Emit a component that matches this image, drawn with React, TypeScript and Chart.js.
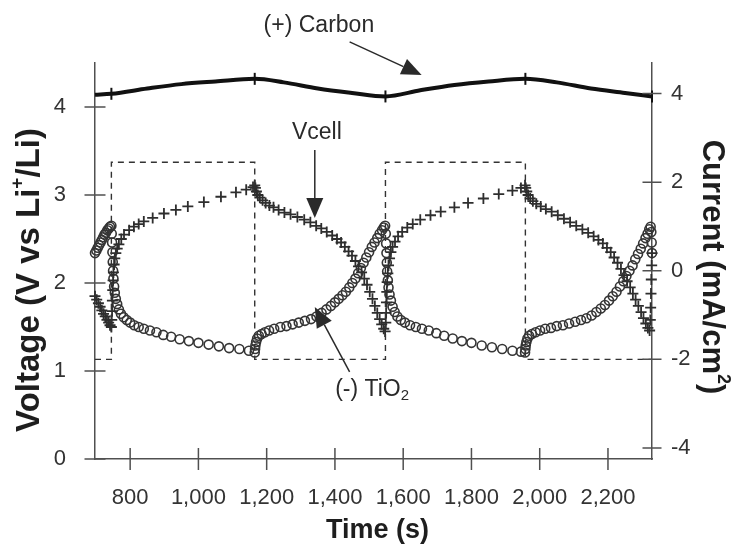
import React, { useEffect, useRef } from 'react';
import { Chart, registerables } from 'chart.js';

Chart.register(...registerables);

const FONT = '"Liberation Sans", Arial, Helvetica, sans-serif';
const INK = '#2a2a2a';
const AXIS = '#505050';

// Tick labels
const timeTicks = [800, 1000, 1200, 1400, 1600, 1800, 2000, 2200];
const voltageTicks = [0, 1, 2, 3, 4];
const currentTicks = [-4, -2, 0, 2, 4];

// (+) Carbon electrode potential (V vs Li+/Li)
const carbonTime = [697, 745, 850, 950, 1050, 1165, 1250, 1350, 1450, 1548, 1650, 1750, 1850, 1958, 2050, 2150, 2250, 2329];
const carbonV = [4.14, 4.15, 4.21, 4.26, 4.29, 4.32, 4.28, 4.21, 4.16, 4.12, 4.19, 4.25, 4.29, 4.32, 4.28, 4.21, 4.16, 4.12];
const carbonMarkTime = [745, 1165, 1548, 1958, 2329];

// Vcell (+ markers)
const vcellTime = [
  697, 702, 707, 712, 717, 722, 727, 732, 737, 741, 745,
  746, 747, 748, 749, 750, 751, 753, 755, 758, 762, 767, 774, 782, 797, 811, 825, 840, 866, 899, 934, 969, 1016, 1066, 1110, 1140, 1160, 1165,
  1167, 1170, 1174, 1180, 1188, 1197, 1208, 1220, 1235, 1252, 1270, 1290, 1310, 1328, 1345, 1360, 1376, 1392, 1406, 1418, 1429, 1440, 1450, 1460, 1469, 1478, 1486, 1494, 1502, 1510, 1517, 1524, 1531, 1537, 1543, 1547,
  1549, 1550, 1551, 1552, 1553, 1555, 1557, 1560, 1564, 1569, 1576, 1585, 1597, 1612, 1628, 1650, 1680, 1710, 1750, 1790, 1835, 1880, 1920, 1945, 1957,
  1959, 1962, 1966, 1972, 1980, 1990, 2003, 2018, 2035, 2053, 2071, 2089, 2107, 2125, 2142, 2158, 2172, 2185, 2197, 2208, 2218, 2228, 2238, 2247, 2256, 2265, 2273, 2281, 2289, 2297, 2304, 2311, 2317, 2322,
  2324, 2325, 2326, 2327, 2328, 2329,
];
const vcellV = [
  1.85, 1.81, 1.77, 1.73, 1.69, 1.65, 1.62, 1.58, 1.55, 1.52, 1.50,
  1.58, 1.68, 1.80, 1.92, 2.03, 2.12, 2.21, 2.28, 2.34, 2.39, 2.44, 2.50, 2.55, 2.60, 2.64, 2.67, 2.70, 2.74, 2.79, 2.83, 2.87, 2.92, 2.98, 3.03, 3.06, 3.09, 3.11,
  3.08, 3.04, 3.00, 2.97, 2.94, 2.91, 2.88, 2.86, 2.83, 2.80, 2.78, 2.75, 2.72, 2.69, 2.65, 2.62, 2.58, 2.54, 2.50, 2.46, 2.41, 2.36, 2.31, 2.25, 2.19, 2.12, 2.05, 1.98, 1.90, 1.82, 1.74, 1.66, 1.59, 1.53, 1.48, 1.45,
  1.55, 1.66, 1.78, 1.90, 2.01, 2.11, 2.20, 2.28, 2.35, 2.41, 2.47, 2.53, 2.58, 2.63, 2.67, 2.72, 2.77, 2.81, 2.86, 2.91, 2.96, 3.01, 3.05, 3.08, 3.11,
  3.08, 3.04, 3.00, 2.96, 2.93, 2.90, 2.87, 2.84, 2.81, 2.77, 2.73, 2.69, 2.65, 2.61, 2.57, 2.53, 2.49, 2.45, 2.40, 2.35, 2.29, 2.23, 2.16, 2.09, 2.02, 1.95, 1.88, 1.81, 1.74, 1.67, 1.60, 1.54, 1.49, 1.46,
  1.58, 1.72, 1.88, 2.04, 2.20, 2.34,
];

// (-) TiO2 electrode potential (circle markers)
const tio2Time = [
  697, 701, 705, 709, 713, 717, 721, 725, 729, 733, 737, 741, 745,
  746, 747, 748, 749, 750, 751, 753, 755, 758, 762, 767, 773, 781, 790, 800, 812, 825, 840, 858, 877, 897, 920, 945, 972, 1000, 1030, 1060, 1090, 1120, 1148, 1165,
  1166, 1167, 1169, 1172, 1177, 1185, 1195, 1207, 1222, 1240, 1258, 1276, 1294, 1312, 1330, 1346, 1361, 1375, 1388, 1400, 1411, 1422, 1432, 1442, 1451, 1460, 1468, 1476, 1484, 1492, 1500, 1508, 1516, 1524, 1531, 1538, 1543, 1547,
  1549, 1550, 1551, 1552, 1553, 1555, 1557, 1560, 1564, 1569, 1575, 1583, 1593, 1605, 1620, 1637, 1655, 1675, 1697, 1720, 1745, 1772, 1800, 1830, 1860, 1890, 1920, 1945, 1957,
  1958, 1959, 1961, 1964, 1969, 1977, 1988, 2001, 2016, 2033, 2050, 2068, 2086, 2104, 2121, 2137, 2152, 2166, 2179, 2191, 2203, 2214, 2225, 2235, 2245, 2254, 2263, 2272, 2280, 2288, 2296, 2303, 2310, 2316, 2321, 2325,
  2327, 2328, 2329,
];
const tio2V = [
  2.34, 2.37, 2.40, 2.43, 2.46, 2.49, 2.52, 2.55, 2.57, 2.60, 2.62, 2.64, 2.65,
  2.56, 2.46, 2.35, 2.24, 2.14, 2.05, 1.96, 1.89, 1.82, 1.76, 1.70, 1.65, 1.61, 1.58, 1.55, 1.52, 1.50, 1.48, 1.46, 1.44, 1.41, 1.39, 1.36, 1.34, 1.32, 1.30, 1.28, 1.26, 1.25, 1.23, 1.21,
  1.25, 1.29, 1.33, 1.37, 1.40, 1.42, 1.44, 1.46, 1.48, 1.50, 1.51, 1.53, 1.55, 1.57, 1.59, 1.62, 1.66, 1.70, 1.74, 1.78, 1.82, 1.86, 1.90, 1.95, 2.00, 2.05, 2.11, 2.17, 2.23, 2.29, 2.35, 2.41, 2.46, 2.51, 2.56, 2.60, 2.63, 2.65,
  2.56, 2.45, 2.34, 2.23, 2.13, 2.03, 1.95, 1.87, 1.80, 1.73, 1.67, 1.62, 1.58, 1.55, 1.52, 1.50, 1.48, 1.46, 1.43, 1.40, 1.37, 1.34, 1.32, 1.29, 1.27, 1.25, 1.23, 1.22, 1.21,
  1.25, 1.29, 1.33, 1.37, 1.40, 1.42, 1.44, 1.46, 1.48, 1.49, 1.51, 1.52, 1.54, 1.56, 1.58, 1.60, 1.63, 1.67, 1.71, 1.75, 1.80, 1.85, 1.90, 1.96, 2.02, 2.08, 2.14, 2.20, 2.27, 2.33, 2.39, 2.45, 2.51, 2.56, 2.61, 2.64,
  2.58, 2.46, 2.34,
];

// Applied current (mA/cm2), square wave (dashed)
const currentTime = [697, 745, 745, 1165, 1165, 1548, 1548, 1958, 1958, 2329];
const currentValue = [-2, -2, 2.45, 2.45, -2, -2, 2.45, 2.45, -2, -2];

// Callout labels (data coordinates: time, voltage)
const calloutText = ['(+) Carbon', 'Vcell', '(-) TiO'];
const calloutSub = ['', '', '2'];
const calloutLabelAt = [[1353, 4.92], [1347, 3.71], [1509, 0.784]];
const calloutFrom = [[1443, 4.74], [1341, 3.51], [1443, 0.99]];
const calloutTo = [[1654, 4.364], [1341, 2.74], [1341, 1.727]];

const pts = (xs: number[], ys: number[]) => xs.map((x, i) => ({ x, y: ys[i] }));

type Part = { t: string; size: number; bold?: boolean; dy?: number };

function drawRich(ctx: CanvasRenderingContext2D, parts: Part[], cx: number, cy: number, rot: number) {
  ctx.save();
  ctx.translate(cx, cy);
  ctx.rotate(rot);
  ctx.textBaseline = 'middle';
  ctx.textAlign = 'left';
  let w = 0;
  for (const p of parts) {
    ctx.font = `${p.bold ? 'bold ' : ''}${p.size}px ${FONT}`;
    w += ctx.measureText(p.t).width;
  }
  let x = -w / 2;
  for (const p of parts) {
    ctx.font = `${p.bold ? 'bold ' : ''}${p.size}px ${FONT}`;
    ctx.fillText(p.t, x, p.dy || 0);
    x += ctx.measureText(p.t).width;
  }
  ctx.restore();
}

function arrow(ctx: CanvasRenderingContext2D, x1: number, y1: number, x2: number, y2: number) {
  const ang = Math.atan2(y2 - y1, x2 - x1);
  const hl = 20;
  const hw = 8.5;
  const bx = x2 - hl * Math.cos(ang);
  const by = y2 - hl * Math.sin(ang);
  ctx.beginPath();
  ctx.moveTo(x1, y1);
  ctx.lineTo(bx, by);
  ctx.stroke();
  ctx.beginPath();
  ctx.moveTo(x2, y2);
  ctx.lineTo(bx + hw * Math.sin(ang), by - hw * Math.cos(ang));
  ctx.lineTo(bx - hw * Math.sin(ang), by + hw * Math.cos(ang));
  ctx.closePath();
  ctx.fill();
}

const decorPlugin = {
  id: 'decor',
  afterDraw(chart: any) {
    const ctx: CanvasRenderingContext2D = chart.ctx;
    const { left, right, bottom } = chart.chartArea;
    const sx = chart.scales.x;
    const sy = chart.scales.y;
    const sy2 = chart.scales.y2;
    ctx.save();
    ctx.strokeStyle = AXIS;
    ctx.lineWidth = 1.5;
    ctx.beginPath();
    for (const t of sx.ticks) {
      const px = sx.getPixelForValue(t.value);
      ctx.moveTo(px, bottom - 11);
      ctx.lineTo(px, bottom + 11);
    }
    for (const t of sy.ticks) {
      const py = sy.getPixelForValue(t.value);
      ctx.moveTo(left - 10.5, py);
      ctx.lineTo(left + 10.5, py);
    }
    for (const t of sy2.ticks) {
      const py = sy2.getPixelForValue(t.value);
      ctx.moveTo(right - 9.5, py);
      ctx.lineTo(right + 9.5, py);
    }
    ctx.stroke();

    // axis titles
    ctx.fillStyle = '#1e1e1e';
    drawRich(ctx, [{ t: 'Time (s)', size: 27, bold: true }], (left + right) / 2 + 4, 531, 0);
    drawRich(ctx, [
      { t: 'Voltage (V vs Li', size: 33, bold: true },
      { t: '+', size: 19, bold: true, dy: -12 },
      { t: '/Li)', size: 33, bold: true },
    ], 30, 280, -Math.PI / 2);
    drawRich(ctx, [
      { t: 'Current (mA/cm', size: 31, bold: true },
      { t: '2', size: 18, bold: true, dy: -11 },
      { t: ')', size: 31, bold: true },
    ], 712, 267, Math.PI / 2);

    // callouts
    ctx.fillStyle = INK;
    ctx.strokeStyle = INK;
    ctx.lineWidth = 1.5;
    for (let i = 0; i < calloutText.length; i++) {
      const parts: Part[] = [{ t: calloutText[i], size: 23 }];
      if (calloutSub[i]) parts.push({ t: calloutSub[i], size: 15, dy: 6 });
      drawRich(ctx, parts, sx.getPixelForValue(calloutLabelAt[i][0]), sy.getPixelForValue(calloutLabelAt[i][1]), 0);
      arrow(
        ctx,
        sx.getPixelForValue(calloutFrom[i][0]), sy.getPixelForValue(calloutFrom[i][1]),
        sx.getPixelForValue(calloutTo[i][0]), sy.getPixelForValue(calloutTo[i][1]),
      );
    }
    ctx.restore();
  },
};

export default function App() {
  const ref = useRef<HTMLCanvasElement | null>(null);
  useEffect(() => {
    if (!ref.current) return;
    const tickFont = { family: FONT, size: 22 };
    const chart = new Chart(ref.current, {
      type: 'scatter',
      data: {
        datasets: [
          {
            label: 'Current',
            data: pts(currentTime, currentValue),
            yAxisID: 'y2',
            showLine: true,
            borderColor: '#333',
            borderWidth: 1.4,
            borderDash: [6, 5],
            pointRadius: 0,
            fill: false,
          },
          {
            label: '(+) Carbon',
            data: pts(carbonTime, carbonV),
            yAxisID: 'y',
            showLine: true,
            borderColor: '#111',
            borderWidth: 4,
            cubicInterpolationMode: 'monotone',
            pointStyle: 'line',
            rotation: 90,
            pointRadius: (c: any) => (carbonMarkTime.includes(carbonTime[c.dataIndex]) ? 6 : 0),
            pointBorderWidth: 2,
            pointBorderColor: '#111',
            clip: false,
          } as any,
          {
            label: 'Vcell',
            data: pts(vcellTime, vcellV),
            yAxisID: 'y',
            pointStyle: 'cross',
            pointRadius: 5.5,
            pointBorderWidth: 1.8,
            borderColor: '#2e2e2e',
            backgroundColor: '#2e2e2e',
            clip: false,
          } as any,
          {
            label: '(-) TiO2',
            data: pts(tio2Time, tio2V),
            yAxisID: 'y',
            pointStyle: 'circle',
            pointRadius: 4.5,
            pointBorderWidth: 1.6,
            borderColor: '#353535',
            backgroundColor: 'rgba(0,0,0,0)',
            clip: false,
          } as any,
        ],
      },
      options: {
        animation: false,
        responsive: false,
        devicePixelRatio: 1,
        layout: { padding: { top: 63, left: 0, right: 0, bottom: 0 } },
        plugins: { legend: { display: false }, tooltip: { enabled: false } },
        scales: {
          x: {
            type: 'linear',
            position: 'bottom',
            min: 697,
            max: 2329,
            afterBuildTicks: (s: any) => { s.ticks = timeTicks.map((v) => ({ value: v })); },
            afterFit: (s: any) => { s.height = 93; },
            ticks: {
              font: tickFont,
              color: '#333',
              padding: 18,
              maxRotation: 0,
              autoSkip: false,
              callback: (v: any) => Number(v).toLocaleString('en-US'),
            },
            grid: { display: false },
            border: { display: true, color: AXIS, width: 1.5 },
          },
          y: {
            type: 'linear',
            position: 'left',
            min: 0,
            max: 4.5,
            afterBuildTicks: (s: any) => { s.ticks = voltageTicks.map((v) => ({ value: v })); },
            afterFit: (s: any) => { s.width = 95; },
            ticks: { font: tickFont, color: '#333', padding: 21 },
            grid: { display: false },
            border: { display: true, color: AXIS, width: 1.5 },
          },
          y2: {
            type: 'linear',
            position: 'right',
            min: -4.25,
            max: 4.69,
            afterBuildTicks: (s: any) => { s.ticks = currentTicks.map((v) => ({ value: v })); },
            afterFit: (s: any) => { s.width = 82; },
            ticks: { font: tickFont, color: '#333', padding: 11 },
            grid: { display: false },
            border: { display: true, color: AXIS, width: 1.5 },
          },
        },
      } as any,
      plugins: [decorPlugin],
    });
    return () => chart.destroy();
  }, []);
  return (
    <div style={{ position: 'absolute', left: 0, top: 0, width: 734, height: 552, background: '#fff' }}>
      <canvas ref={ref} width={734} height={552} style={{ width: 734, height: 552, display: 'block' }} />
    </div>
  );
}
